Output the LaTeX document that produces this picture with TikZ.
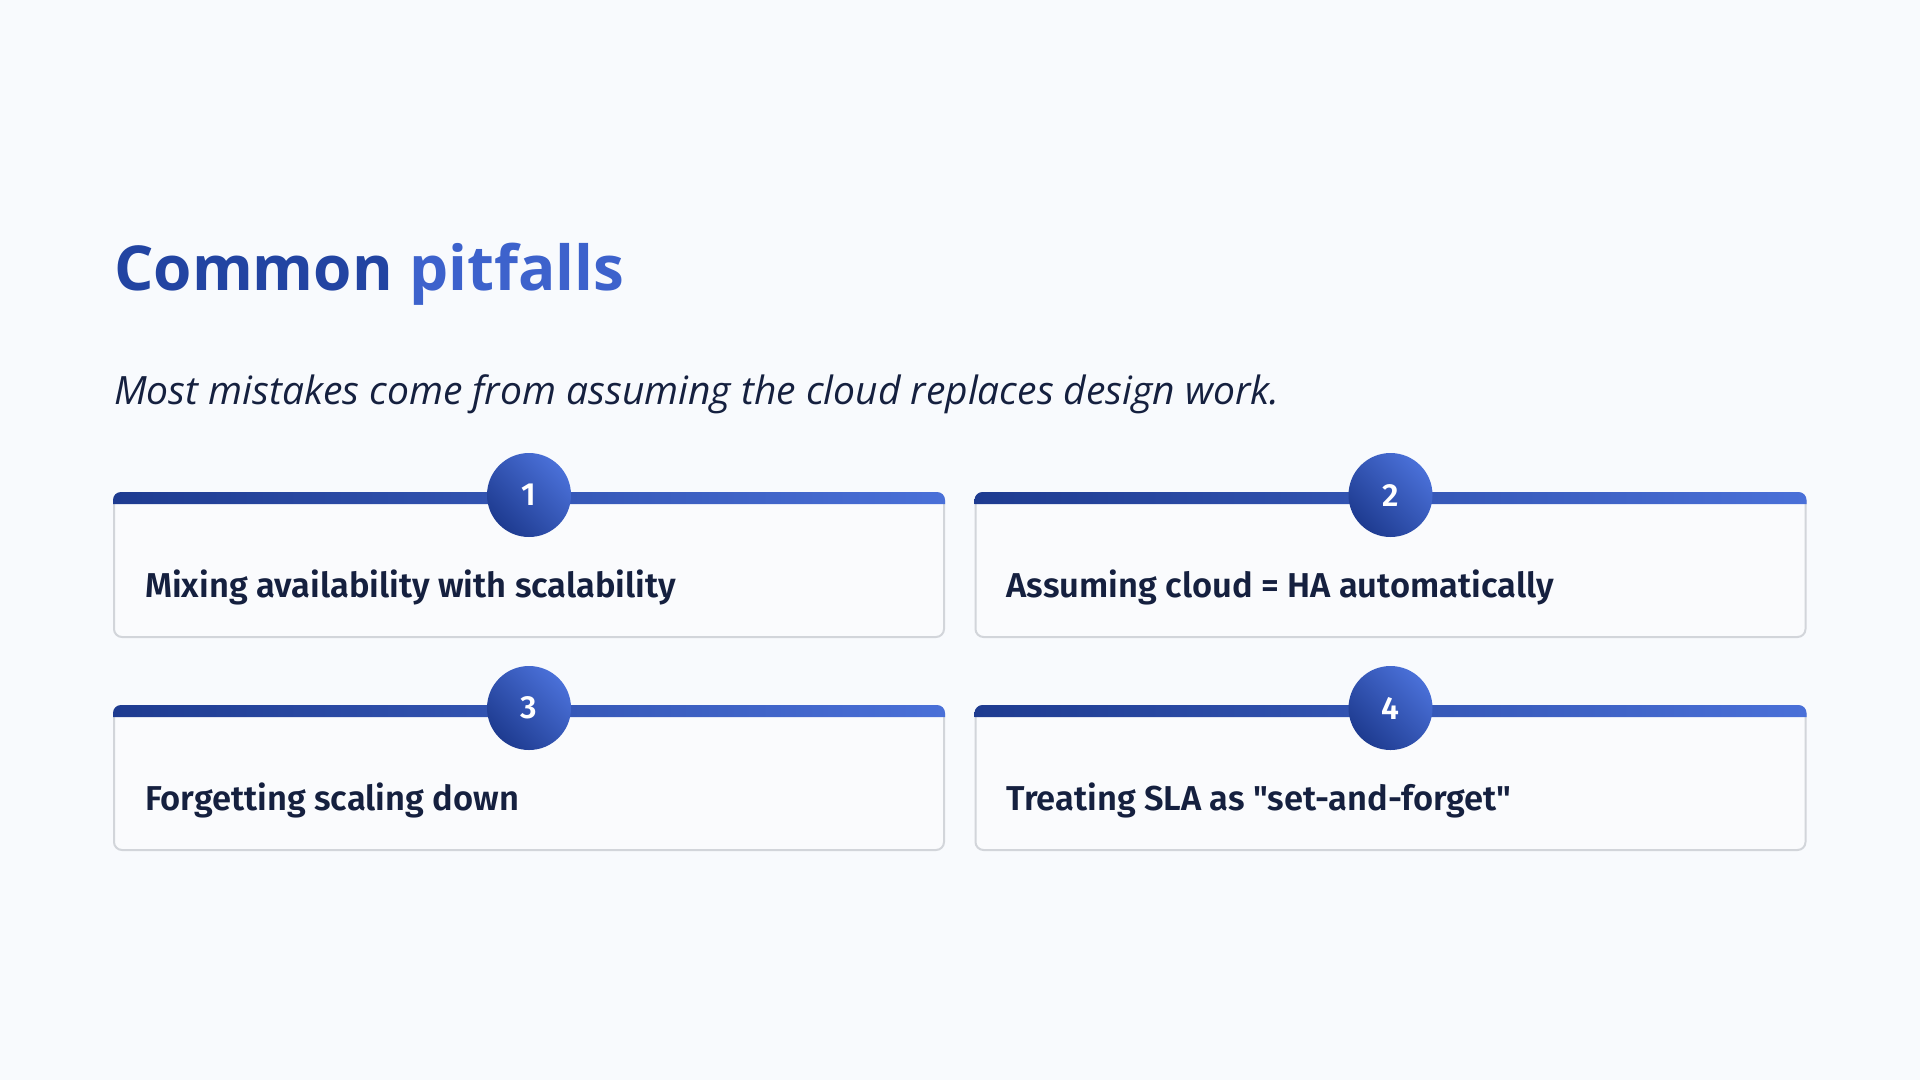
\documentclass[tikz,border=0pt]{standalone}
\usepackage{fontspec}
\setmainfont{Fira Sans}[BoldFont={Fira Sans SemiBold}, Ligatures=TeXOff]
\newfontfamily\headfont{Open Sans}
\usepackage{tikz}
\usetikzlibrary{positioning, calc}

\definecolor{pagebg}{HTML}{F8FAFD}
\definecolor{cardfill}{HTML}{FAFBFD}
\definecolor{cardline}{HTML}{D2D5DA}
\definecolor{navy}{HTML}{15203F}
\definecolor{darkblue}{HTML}{1E3B90}
\definecolor{lightblue}{HTML}{4A70D8}
\definecolor{titleA}{HTML}{2244A2}
\definecolor{titleB}{HTML}{3D62CC}

\begin{document}
\begin{tikzpicture}[x=1pt, y=-1pt]
	\tikzstyle{card} = [draw=cardline, line width=2pt, fill=cardfill, rounded corners=8pt, minimum width=830pt, minimum height=144pt, inner sep=0pt]
	\tikzstyle{badge} = [circle, minimum size=84pt, inner sep=0pt, top color=lightblue, bottom color=darkblue, shading angle=-45, text=white, font=\fontsize{32}{32}\selectfont\bfseries]
	\tikzstyle{label} = [anchor=base west, text=navy, font=\fontsize{34.5}{40}\selectfont\bfseries, inner sep=0pt]
	\tikzstyle{bar} = [left color=darkblue, right color=lightblue]

	% page
	\useasboundingbox[fill=pagebg] (0,0) rectangle (1920,1080);

	% heading
	\node[anchor=base west, inner sep=0pt, font=\headfont\fontsize{62}{66}\selectfont\bfseries] (title) at (114,290)
		{\textcolor{titleA}{Common} \textcolor{titleB}{pitfalls}};
	\node[anchor=base west, inner sep=0pt, text=navy, font=\headfont\fontsize{39}{44}\selectfont\itshape] (sub) at (114,404)
		{Most mistakes come from assuming the cloud replaces design work.};

	% cards
	\node[card] (c1) at (529,565) {};
	\node[card] (c2) at (1390.5,565) {};
	\node[card] (c3) at (529,778) {};
	\node[card] (c4) at (1390.5,778) {};

	\shade[bar] ($(c1.north west)+(0,12)$) {[rounded corners=8pt] -- (c1.north west) -- (c1.north east)} -- ($(c1.north east)+(0,12)$) -- cycle;
	\shade[bar] ($(c2.north west)+(0,12)$) {[rounded corners=8pt] -- (c2.north west) -- (c2.north east)} -- ($(c2.north east)+(0,12)$) -- cycle;
	\shade[bar] ($(c3.north west)+(0,12)$) {[rounded corners=8pt] -- (c3.north west) -- (c3.north east)} -- ($(c3.north east)+(0,12)$) -- cycle;
	\shade[bar] ($(c4.north west)+(0,12)$) {[rounded corners=8pt] -- (c4.north west) -- (c4.north east)} -- ($(c4.north east)+(0,12)$) -- cycle;

	\node[badge] (n1) at ($(c1.north)+(0,3)$) {1};
	\node[badge] (n2) at ($(c2.north)+(0,3)$) {2};
	\node[badge] (n3) at ($(c3.north)+(0,3)$) {3};
	\node[badge] (n4) at ($(c4.north)+(0,3)$) {4};

	\node[label] (t1) at ($(c1.west)+(32,32)$) {Mixing availability with scalability};
	\node[label] (t2) at ($(c2.west)+(32,32)$) {Assuming cloud = HA automatically};
	\node[label] (t3) at ($(c3.west)+(32,32)$) {Forgetting scaling down};
	\node[label] (t4) at ($(c4.west)+(32,32)$) {Treating SLA as "set-and-forget"};
\end{tikzpicture}
\end{document}
